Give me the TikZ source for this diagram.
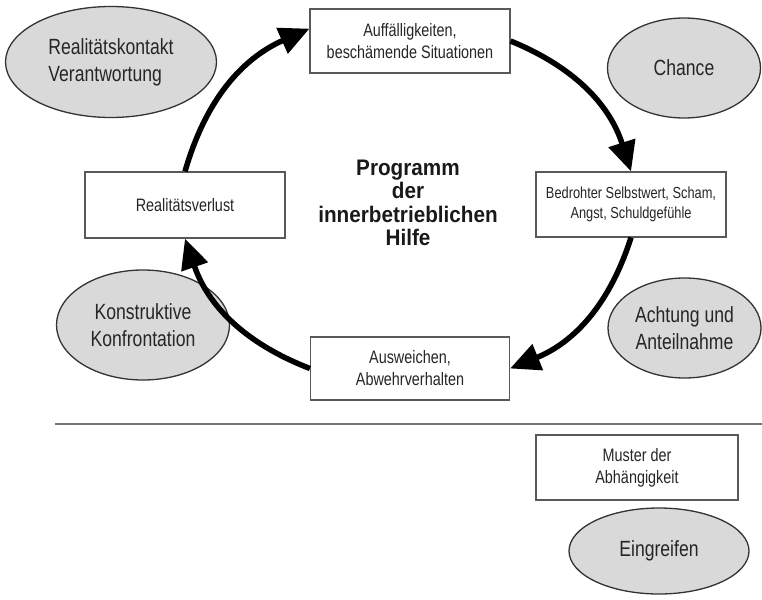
\documentclass[tikz,border=0pt]{standalone}
\usepackage{fontspec}
\setmainfont{Liberation Sans}[FakeStretch=0.8]
\newfontfamily\progfont{Liberation Sans}[FakeStretch=0.92]
\usetikzlibrary{arrows.meta,shapes.geometric}

\tikzset{
  feld/.style={draw=black!65, line width=1.1pt, fill=white, align=center, inner sep=0pt,
    font=\fontsize{18}{22}\selectfont, text=black!85},
  oval/.style={ellipse, draw=black!80, line width=1.3pt, fill=black!15, inner sep=0pt,
    align=center, font=\fontsize{22}{27}\selectfont, text=black!85},
  zyklus/.style={black, line width=5.5pt, -{Triangle[length=30pt,width=27pt]}, bend left=25}
}

\begin{document}
\begin{tikzpicture}[x=1pt,y=-1pt]
\useasboundingbox (0,0) rectangle (762,599);

% Kreislauf
\node[feld, minimum width=200pt, minimum height=64pt] (auff) at (410,41) {Auff\"alligkeiten,\\beschämende Situationen};
\node[feld, minimum width=190pt, minimum height=65pt, font=\fontsize{16}{19.5}\selectfont] (bedr) at (631,204.5) {Bedrohter Selbstwert, Scham,\\Angst, Schuldgefühle};
\node[feld, minimum width=199pt, minimum height=63pt] (ausw) at (410,368.5) {Ausweichen,\\Abwehrverhalten};
\node[feld, minimum width=200pt, minimum height=66pt] (verlust) at (185,205) {Realitätsverlust};

\node[align=center, font=\progfont\bfseries\fontsize{22.5}{23.5}\selectfont, text=black!90] (prog) at (408,203) {Programm\\der\\innerbetrieblichen\\Hilfe};

% Hilfen
\node[oval, minimum width=211pt, minimum height=111pt, align=left] (kontakt) at (111,62) {Realitätskontakt\\Verantwortung};
\node[oval, minimum width=153pt, minimum height=100pt] (chance) at (684,68) {Chance};
\node[oval, minimum width=153pt, minimum height=100pt] (achtung) at (684.5,328) {Achtung und\\Anteilnahme};
\node[oval, minimum width=173pt, minimum height=110pt] (konstr) at (143,325) {Konstruktive\\Konfrontation};

\draw[zyklus] (verlust.north) to (auff.173);
\draw[zyklus] (auff.east) to (bedr.north);
\draw[zyklus] (bedr.south) to (ausw.east);
\draw[zyklus] (ausw.west) to (verlust.south);

\draw[black!55, line width=1.3pt] (55,424) -- (762,424);

% Legende
\node[feld, minimum width=202pt, minimum height=65pt] (muster) at (637,467.5) {Muster der\\Abhängigkeit};
\node[oval, minimum width=180pt, minimum height=86pt] (eingr) at (659,551) {Eingreifen};

\end{tikzpicture}
\end{document}
